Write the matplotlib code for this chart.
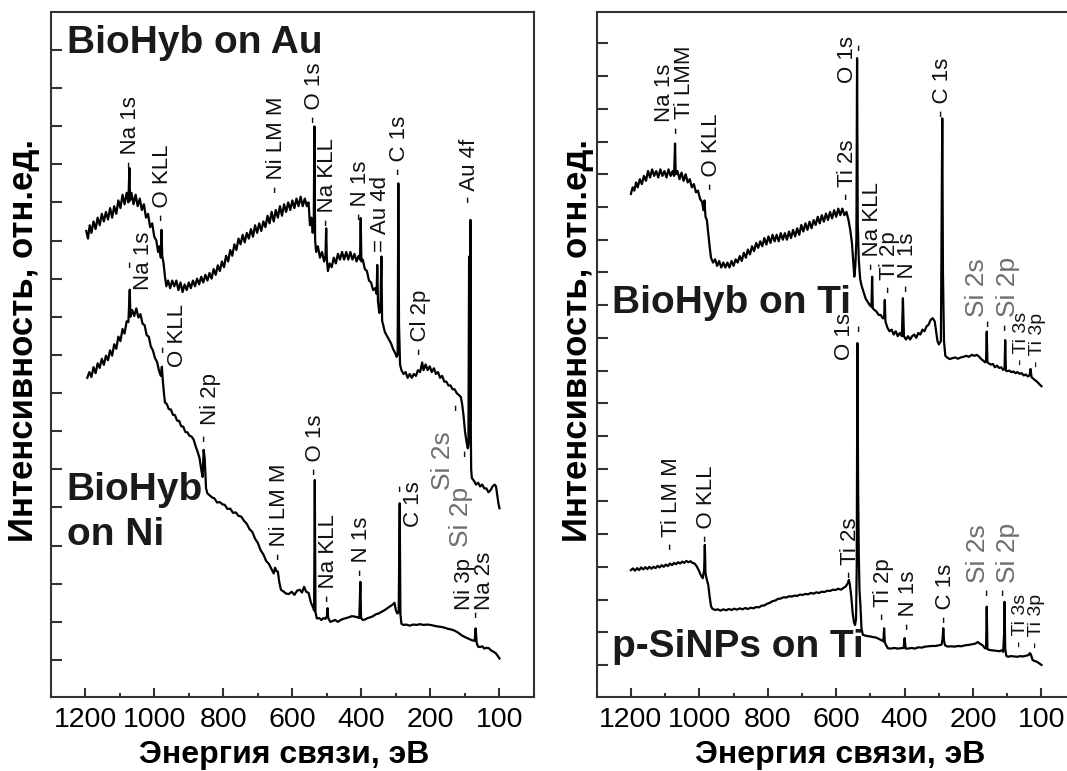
import matplotlib
matplotlib.use("Agg")
import matplotlib.pyplot as plt
from matplotlib.ticker import MultipleLocator, FixedLocator, FixedFormatter
import numpy as np

plt.rcParams['font.family'] = ['Liberation Sans', 'DejaVu Sans']

# energy axis ticks (the original figure labels the last one "100")
tick_pos = [1200, 1000, 800, 600, 400, 200, 0]
tick_txt = ['1200', '1000', '800', '600', '400', '200', '100']

# ---- spectra, (binding energy eV, intensity a.u.) ----
biohyb_au = [
    (1197, 11.25), (1192, 11.05), (1187, 11.4), (1182, 11.2), (1176, 11.5), (1170, 11.3),
    (1164, 11.6), (1158, 11.4), (1152, 11.7), (1146, 11.5), (1140, 11.75), (1134, 11.55),
    (1128, 11.85), (1122, 11.6), (1116, 11.9), (1110, 11.7), (1104, 12.05), (1098, 11.85),
    (1092, 12.2), (1086, 11.95), (1080, 12.25), (1075, 12.0), (1072, 12.9), (1070, 12.05),
    (1066, 12.25), (1060, 11.95), (1054, 12.2), (1048, 11.9), (1042, 12.1), (1036, 11.8),
    (1030, 11.95), (1024, 11.6), (1018, 11.7), (1012, 11.35), (1006, 11.45), (1000, 11.1),
    (994, 11.0), (989, 10.7), (985, 10.85), (981, 10.55), (979, 11.28), (977, 10.6),
    (973, 10.4), (969, 10.05), (965, 9.8), (960, 9.95), (954, 9.75), (948, 9.95),
    (942, 9.8), (936, 9.95), (930, 9.7), (924, 9.9), (918, 9.65), (912, 9.85),
    (906, 9.7), (900, 9.9), (894, 9.75), (888, 9.95), (882, 9.8), (876, 10.0),
    (870, 9.85), (864, 10.05), (858, 9.9), (852, 10.1), (846, 9.95), (840, 10.15),
    (834, 10.0), (828, 10.25), (822, 10.1), (816, 10.35), (810, 10.2), (804, 10.45),
    (798, 10.3), (792, 10.6), (786, 10.45), (780, 10.75), (774, 10.6), (768, 10.9),
    (762, 10.75), (756, 11.05), (750, 10.9), (744, 11.15), (738, 10.95), (732, 11.2),
    (726, 11.05), (720, 11.3), (714, 11.1), (708, 11.4), (702, 11.2), (696, 11.45),
    (690, 11.25), (684, 11.5), (678, 11.35), (672, 11.65), (666, 11.45), (660, 11.75),
    (654, 11.5), (648, 11.8), (642, 11.6), (636, 11.9), (630, 11.65), (624, 11.95),
    (618, 11.75), (612, 12.0), (606, 11.8), (600, 12.05), (594, 11.85), (588, 12.1),
    (582, 11.9), (576, 12.15), (570, 11.9), (564, 12.1), (558, 11.9), (553, 12.0),
    (549, 11.4), (545, 11.6), (541, 11.2), (538, 11.5), (536, 13.99), (534, 11.0),
    (531, 10.7), (526, 10.85), (520, 10.55), (514, 10.7), (508, 10.45), (504, 10.6),
    (502, 11.32), (500, 10.5), (497, 10.2), (492, 10.4), (486, 10.3), (480, 10.55),
    (474, 10.4), (468, 10.65), (462, 10.5), (456, 10.7), (450, 10.5), (444, 10.7),
    (438, 10.5), (432, 10.7), (426, 10.5), (420, 10.65), (414, 10.45), (408, 10.6),
    (404, 10.5), (402, 11.59), (400, 10.45), (396, 10.5), (390, 10.25), (384, 10.2),
    (378, 9.95), (372, 9.9), (366, 9.7), (360, 9.75), (356, 9.6), (354, 10.36),
    (352, 9.4), (348, 9.1), (345, 9.2), (342, 10.58), (340, 8.9), (336, 8.75),
    (332, 8.6), (326, 8.5), (320, 8.4), (314, 8.3), (308, 8.15), (302, 8.05),
    (298, 7.95), (295, 8.0), (293, 12.5), (291, 8.8), (288, 7.75), (284, 7.6),
    (278, 7.5), (272, 7.55), (266, 7.4), (260, 7.5), (254, 7.4), (248, 7.5),
    (242, 7.45), (236, 7.6), (230, 7.55), (224, 7.8), (220, 7.6), (214, 7.75),
    (208, 7.6), (202, 7.7), (196, 7.55), (190, 7.65), (184, 7.5), (178, 7.55),
    (172, 7.4), (166, 7.45), (160, 7.3), (154, 7.3), (148, 7.2), (142, 7.2),
    (136, 7.1), (130, 7.1), (124, 7.0), (118, 6.95), (112, 6.9), (108, 6.7),
    (104, 6.4), (100, 6.0), (96, 5.75), (92, 5.55), (90, 5.6), (88, 10.58),
    (87, 5.7), (85, 6.5), (84, 11.54), (83, 6.0), (82, 5.0), (80, 4.77),
    (74, 4.7), (68, 4.6), (62, 4.65), (56, 4.55), (50, 4.6), (44, 4.5),
    (38, 4.5), (32, 4.4), (26, 4.45), (20, 4.55), (14, 4.6), (10, 4.55),
    (6, 4.3), (3, 4.1), (0, 3.98),
]

biohyb_ni = [
    (1194, 7.4), (1188, 7.55), (1182, 7.42), (1176, 7.68), (1170, 7.52), (1164, 7.78),
    (1158, 7.66), (1152, 7.9), (1146, 7.74), (1140, 7.98), (1134, 7.86), (1128, 8.12),
    (1122, 7.98), (1116, 8.28), (1110, 8.16), (1104, 8.48), (1098, 8.36), (1092, 8.68),
    (1086, 8.56), (1080, 8.88), (1075, 8.86), (1071, 9.71), (1069, 9.0), (1064, 9.18),
    (1058, 9.02), (1052, 9.22), (1046, 8.98), (1040, 9.07), (1034, 8.82), (1028, 8.78),
    (1022, 8.52), (1016, 8.48), (1010, 8.22), (1004, 8.12), (998, 7.92), (992, 7.82),
    (986, 7.58), (981, 7.45), (978, 7.69), (975, 7.3), (972, 7.0), (969, 6.75),
    (964, 6.72), (958, 6.58), (952, 6.57), (946, 6.43), (940, 6.42), (934, 6.28),
    (928, 6.27), (922, 6.13), (916, 6.12), (910, 5.98), (904, 5.97), (898, 5.88),
    (892, 5.86), (886, 5.78), (880, 5.6), (874, 5.45), (869, 5.3), (864, 5.0),
    (860, 4.8), (857, 5.51), (854, 5.3), (850, 4.5), (846, 4.37), (840, 4.32),
    (832, 4.26), (826, 4.24), (818, 4.13), (810, 4.14), (802, 4.08), (796, 4.07),
    (788, 3.96), (780, 3.97), (772, 3.86), (764, 3.87), (756, 3.78), (748, 3.76),
    (740, 3.65), (732, 3.57), (724, 3.43), (716, 3.36), (708, 3.18), (700, 3.07),
    (692, 2.88), (684, 2.77), (676, 2.6), (668, 2.52), (660, 2.38), (654, 2.27),
    (650, 2.42), (646, 2.33), (642, 2.32), (638, 2.05), (633, 1.84), (626, 1.8),
    (618, 1.74), (610, 1.73), (602, 1.79), (594, 1.71), (586, 1.82), (578, 1.84),
    (572, 1.77), (566, 1.92), (560, 1.79), (553, 1.76), (546, 1.5), (541, 1.4),
    (537, 1.3), (535, 4.72), (533, 1.25), (529, 1.09), (522, 1.1), (516, 1.05),
    (510, 1.1), (504, 1.08), (500, 1.15), (498, 1.36), (496, 1.1), (490, 1.0),
    (484, 1.02), (476, 1.05), (468, 1.0), (460, 1.05), (452, 1.08), (444, 1.1),
    (436, 1.12), (428, 1.15), (420, 1.14), (412, 1.12), (406, 1.1), (403, 2.05),
    (401, 1.1), (396, 1.05), (390, 1.06), (382, 1.1), (374, 1.12), (366, 1.15),
    (358, 1.2), (350, 1.22), (342, 1.26), (334, 1.3), (326, 1.35), (318, 1.4),
    (310, 1.45), (304, 1.5), (300, 1.3), (296, 1.22), (292, 1.25), (289, 4.11),
    (287, 1.2), (284, 0.95), (278, 0.92), (270, 0.93), (260, 0.9), (250, 0.93),
    (240, 0.92), (230, 0.94), (220, 0.92), (210, 0.93), (200, 0.92), (190, 0.9),
    (180, 0.88), (170, 0.87), (160, 0.85), (150, 0.82), (140, 0.8), (130, 0.77),
    (120, 0.72), (110, 0.65), (100, 0.6), (90, 0.56), (80, 0.52), (72, 0.5),
    (69, 0.83), (66, 0.45), (62, 0.35), (56, 0.34), (50, 0.36), (44, 0.3),
    (38, 0.32), (31, 0.31), (24, 0.25), (18, 0.22), (11, 0.18), (6, 0.12), (0, 0.04),
]

biohyb_ti = [
    (1200, 14.4), (1195, 14.6), (1190, 14.5), (1185, 14.75), (1180, 14.6), (1174, 14.85),
    (1168, 14.7), (1162, 14.95), (1156, 14.8), (1150, 15.1), (1144, 14.9), (1138, 15.15),
    (1132, 14.95), (1126, 15.1), (1120, 14.9), (1114, 15.15), (1108, 14.95), (1102, 15.1),
    (1096, 14.9), (1090, 15.15), (1084, 14.95), (1078, 15.1), (1074, 14.95), (1071, 15.94),
    (1069, 15.0), (1064, 15.1), (1058, 14.85), (1052, 15.05), (1046, 14.8), (1040, 15.0),
    (1034, 14.75), (1028, 14.85), (1022, 14.6), (1016, 14.7), (1010, 14.45), (1004, 14.5),
    (998, 14.25), (992, 14.15), (988, 13.9), (985, 14.2), (982, 13.7), (978, 13.6),
    (974, 13.2), (970, 12.8), (966, 12.45), (960, 12.3), (954, 12.4), (948, 12.2),
    (942, 12.35), (936, 12.15), (930, 12.3), (924, 12.15), (918, 12.3), (912, 12.15),
    (906, 12.35), (900, 12.2), (894, 12.4), (888, 12.3), (882, 12.5), (876, 12.35),
    (870, 12.6), (864, 12.45), (858, 12.7), (852, 12.55), (846, 12.8), (840, 12.65),
    (834, 12.9), (828, 12.75), (822, 12.95), (816, 12.8), (810, 13.05), (804, 12.85),
    (798, 13.1), (792, 12.9), (786, 13.15), (780, 12.95), (774, 13.15), (768, 12.95),
    (762, 13.2), (756, 13.0), (750, 13.2), (744, 13.0), (738, 13.25), (732, 13.05),
    (726, 13.3), (720, 13.1), (714, 13.35), (708, 13.15), (702, 13.45), (696, 13.25),
    (690, 13.5), (684, 13.3), (678, 13.55), (672, 13.35), (666, 13.6), (660, 13.45),
    (654, 13.7), (648, 13.5), (642, 13.75), (636, 13.55), (630, 13.8), (624, 13.6),
    (618, 13.85), (612, 13.65), (606, 13.9), (600, 13.7), (594, 13.95), (588, 13.75),
    (582, 13.95), (576, 13.75), (570, 13.85), (564, 13.6), (559, 13.3), (554, 12.9),
    (550, 12.3), (547, 11.87), (544, 12.2), (541, 13.0), (539, 18.55), (537, 13.5),
    (534, 12.4), (530, 11.8), (526, 11.6), (520, 11.4), (514, 11.2), (508, 11.1),
    (502, 11.0), (497, 10.95), (495, 11.87), (493, 10.9), (488, 10.85), (482, 10.8),
    (476, 10.7), (470, 10.7), (464, 10.6), (460, 10.6), (458, 11.16), (456, 10.5),
    (450, 10.3), (444, 10.2), (438, 10.25), (432, 10.1), (426, 10.2), (420, 10.05),
    (414, 10.15), (408, 10.05), (405, 11.21), (402, 10.05), (396, 9.95), (390, 10.05),
    (384, 9.95), (378, 10.05), (372, 10.1), (366, 10.0), (360, 10.15), (354, 10.1),
    (348, 10.25), (342, 10.2), (336, 10.35), (330, 10.4), (324, 10.55), (318, 10.6),
    (312, 10.5), (308, 10.2), (304, 9.9), (300, 9.8), (294, 9.9), (292, 13.5),
    (290, 16.71), (288, 12.0), (285, 9.9), (281, 9.45), (276, 9.4), (268, 9.35),
    (260, 9.38), (252, 9.4), (244, 9.36), (236, 9.4), (228, 9.42), (220, 9.45),
    (212, 9.42), (204, 9.48), (196, 9.45), (189, 9.48), (182, 9.42), (176, 9.35),
    (170, 9.3), (165, 9.25), (162, 9.3), (160, 10.19), (158, 9.25), (154, 9.22),
    (148, 9.18), (142, 9.2), (136, 9.1), (130, 9.15), (124, 9.08), (118, 9.1),
    (112, 9.02), (108, 9.05), (106, 9.93), (104, 9.0), (100, 8.98), (94, 9.0),
    (88, 8.95), (82, 8.97), (76, 8.92), (70, 8.95), (64, 8.9), (58, 8.92),
    (52, 8.85), (46, 8.88), (40, 8.82), (35, 8.85), (32, 9.05), (29, 8.8),
    (24, 8.75), (18, 8.7), (12, 8.65), (6, 8.58), (0, 8.52),
]

psinp_ti = [
    (1200, 2.9), (1194, 2.95), (1188, 2.88), (1182, 2.96), (1176, 2.9), (1170, 2.98),
    (1164, 2.92), (1158, 2.99), (1152, 2.93), (1146, 3.0), (1140, 2.94), (1134, 3.0),
    (1128, 2.96), (1122, 3.03), (1116, 2.98), (1110, 3.05), (1104, 3.0), (1098, 3.07),
    (1092, 3.02), (1086, 3.1), (1080, 3.05), (1074, 3.12), (1068, 3.08), (1062, 3.14),
    (1056, 3.1), (1050, 3.16), (1044, 3.12), (1038, 3.18), (1032, 3.14), (1026, 3.17),
    (1020, 3.12), (1014, 3.1), (1008, 3.02), (1002, 2.9), (996, 2.75), (990, 2.65),
    (986, 2.9), (984, 3.67), (982, 2.8), (978, 2.6), (974, 2.45), (970, 2.1),
    (966, 1.8), (962, 1.72), (954, 1.68), (946, 1.7), (938, 1.66), (930, 1.7),
    (922, 1.67), (914, 1.71), (906, 1.68), (898, 1.72), (890, 1.69), (882, 1.73),
    (874, 1.7), (866, 1.74), (858, 1.71), (850, 1.75), (842, 1.73), (834, 1.77),
    (826, 1.76), (818, 1.81), (810, 1.82), (802, 1.87), (794, 1.9), (786, 1.95),
    (778, 1.97), (770, 2.02), (762, 2.03), (754, 2.07), (746, 2.06), (738, 2.1),
    (730, 2.09), (722, 2.12), (714, 2.11), (706, 2.15), (698, 2.14), (690, 2.17),
    (682, 2.16), (674, 2.2), (666, 2.18), (658, 2.22), (650, 2.2), (642, 2.24),
    (634, 2.23), (626, 2.27), (618, 2.26), (610, 2.3), (602, 2.29), (594, 2.33),
    (586, 2.3), (578, 2.36), (572, 2.4), (566, 2.5), (563, 2.6), (560, 2.45),
    (556, 2.1), (552, 1.6), (548, 1.3), (545, 1.22), (542, 1.4), (540, 3.0),
    (538, 9.84), (536, 5.5), (534, 3.4), (532, 2.3), (529, 1.78), (526, 1.1),
    (522, 0.92), (516, 0.9), (508, 0.88), (500, 0.87), (492, 0.85), (484, 0.84),
    (476, 0.8), (468, 0.76), (462, 0.72), (460, 1.12), (458, 0.7), (454, 0.6),
    (449, 0.51), (440, 0.5), (430, 0.52), (420, 0.5), (410, 0.51), (403, 0.52),
    (400, 0.82), (397, 0.5), (390, 0.5), (380, 0.52), (370, 0.5), (360, 0.54),
    (350, 0.53), (340, 0.56), (330, 0.57), (320, 0.58), (310, 0.58), (300, 0.6),
    (292, 0.62), (289, 0.8), (287, 1.12), (285, 0.75), (282, 0.6), (274, 0.56),
    (264, 0.57), (254, 0.56), (244, 0.58), (234, 0.57), (224, 0.6), (214, 0.61),
    (204, 0.63), (194, 0.65), (186, 0.7), (180, 0.65), (172, 0.6), (166, 0.52),
    (162, 0.5), (160, 1.78), (158, 0.5), (154, 0.46), (146, 0.45), (138, 0.44),
    (130, 0.43), (122, 0.42), (116, 0.45), (112, 0.4), (109, 1.0), (108, 1.93),
    (106, 0.5), (103, 0.28), (98, 0.25), (90, 0.27), (80, 0.26), (70, 0.25),
    (62, 0.27), (54, 0.26), (46, 0.28), (38, 0.3), (34, 0.36), (31, 0.32),
    (26, 0.15), (20, 0.12), (14, 0.1), (8, 0.06), (0, 0.0),
]

# ---- peak labels: (text, energy, intensity at the bottom of the text) ----
left_peaks = [
    ("- Na 1s", 1070, 12.9), ("- O KLL", 975, 11.5), ("- Ni LM M", 647, 12.24),
    ("- O 1s", 536, 14.08), ("- Na KLL", 499, 11.37), ("- N 1s", 402, 11.54),
    ("= Au 4d", 344, 10.71), ("- C 1s", 290, 12.72), ("- Cl 2p", 230, 8.0),
    ("- Au 4f", 86, 11.98),
    ("-", 1070, 10.3), ("Na 1s", 1030, 9.71), ("-", 975, 8.08), ("O KLL", 932, 7.69),
    ("-", 856, 5.75), ("Ni 2p", 836, 6.16), ("- Ni LM M", 637, 2.62),
    ("- O 1s", 533, 4.85), ("- Na KLL", 494, 1.53), ("- N 1s", 399, 2.19),
    ("-", 288, 4.43), ("C 1s", 248, 3.49),
    ("-", 68, 1.13), ("Ni 3p", 100, 1.31), ("Na 2s", 43, 1.31),
    ("-", 124, 6.56), ("-", 98, 5.35),
]
left_si = [("Si 2s", 164, 4.46), ("Si 2p", 112, 2.96)]

right_peaks = [
    ("Na 1s", 1102, 16.6), ("Ti LMM", 1043, 16.7), ("-", 1068, 16.26),
    ("- O KLL", 965, 14.52), ("- Ti 2s", 567, 14.21),
    ("O 1s", 568, 17.79), ("-", 533, 18.8),
    ("- Na KLL", 495, 12.07), ("- Ti 2p", 445, 11.37), ("- N 1s", 392, 11.4),
    ("- C 1s", 288, 16.76), ("O 1s", 576, 9.32), ("-", 533, 10.2),
    ("-", 156, 10.36), ("-", 107, 10.24),
    ("- Ti LM M", 1082, 3.51), ("- O KLL", 979, 3.77), ("- Ti 2s", 559, 2.66),
    ("- Ti 2p", 462, 1.38), ("- N 1s", 389, 1.07), ("- C 1s", 282, 1.28),
    ("-", 160, 2.14), ("-", 111, 2.14),
]
right_small = [("- Ti 3s", 57, 9.17), ("- Ti 3p", 12, 9.1),
               ("- Ti 3s", 60, 0.55), ("- Ti 3p", 16, 0.52)]
right_si = [("Si 2s", 189, 10.64), ("Si 2p", 97, 10.64),
            ("Si 2s", 185, 2.5), ("Si 2p", 97, 2.5)]

left_titles = [("BioHyb on Au", 1254, 15.92), ("BioHyb", 1254, 4.2), ("on Ni", 1254, 3.02)]
right_titles = [("BioHyb on Ti", 1254, 10.76), ("p-SiNPs on Ti", 1254, 0.25)]

xlabel = "Энергия связи, эВ"
ylabel = "Интенсивность, отн.ед."

W, H = 1067, 771
fig = plt.figure(figsize=(W / 100, H / 100), dpi=100)
frame = '#333333'


def setup(ax, ylim, nticks):
    ax.set_xlim(1300, -100)
    ax.set_ylim(*ylim)
    ax.xaxis.set_major_locator(FixedLocator(tick_pos))
    ax.xaxis.set_major_formatter(FixedFormatter(tick_txt))
    ax.xaxis.set_minor_locator(MultipleLocator(100))
    ax.yaxis.set_major_locator(FixedLocator(range(nticks + 1)))
    ax.set_yticklabels([])
    ax.tick_params(axis='x', which='major', direction='in', length=6.5, width=1.5,
                   color=frame, labelsize=20.5, pad=7)
    ax.tick_params(axis='x', which='minor', direction='in', length=3, width=1.5, color=frame)
    ax.tick_params(axis='y', which='major', direction='in', length=8, width=1.5, color=frame)
    for sp in ax.spines.values():
        sp.set_linewidth(1.5)
        sp.set_color(frame)


def draw(ax, curves, peaks, si, titles, small=()):
    for pts in curves:
        e, v = np.array(pts).T
        ax.plot(e, v, color='black', lw=1.6)
    for txt, e, v in peaks:
        ax.text(e, v, txt, rotation=90, ha='center', va='bottom', fontsize=16, color='#111111')
    for txt, e, v in small:
        ax.text(e, v, txt, rotation=90, ha='center', va='bottom', fontsize=14, color='#111111')
    for txt, e, v in si:
        ax.text(e, v, txt, rotation=90, ha='center', va='bottom', fontsize=19, color='#6e6e6e')
    for txt, e, v in titles:
        ax.text(e, v, txt, ha='left', va='baseline', fontsize=28, fontweight='bold', color='#1a1a1a')


ax1 = fig.add_axes([50.7 / W, 1 - 697 / H, (534 - 50.7) / W, (697 - 11.7) / H])
setup(ax1, (-0.97, 17.0), 16)
draw(ax1, [biohyb_au, biohyb_ni], left_peaks, left_si, left_titles)

ax2 = fig.add_axes([596.7 / W, 1 - 697 / H, (1075.7 - 596.7) / W, (697 - 11.7) / H])
setup(ax2, (-0.98, 19.97), 19)
draw(ax2, [biohyb_ti, psinp_ti], right_peaks, right_si, right_titles, right_small)

for xc in (284, 840):
    fig.text(xc / W, 1 - 763 / H, xlabel, ha='center', va='baseline', fontsize=23, fontweight='bold')
for xc in (24, 577):
    fig.text(xc / W, 1 - 340 / H, ylabel, rotation=90, ha='center', va='center',
             fontsize=25, fontweight='bold')

fig.savefig('out.png', dpi=100)
